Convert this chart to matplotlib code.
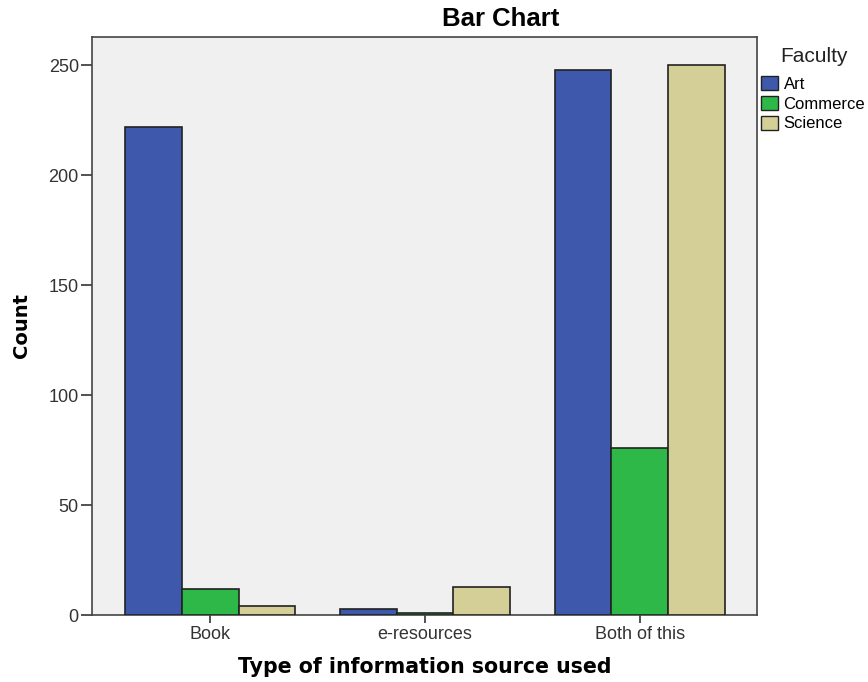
import matplotlib
matplotlib.use("Agg")
import matplotlib.pyplot as plt
import numpy as np
from matplotlib.patches import Patch

plt.rcParams['font.family'] = ['Liberation Sans', 'DejaVu Sans']

categories = ["Book", "e-resources", "Both of this"]
faculties = ["Art", "Commerce", "Science"]
art = [222, 3, 248]
commerce = [12, 1, 76]
science = [4, 13, 250]
colors = ["#3E58AC", "#2EB848", "#D4CF97"]

W, H = 868, 682
fig = plt.figure(figsize=(W / 100, H / 100), dpi=100)
ax = fig.add_axes([0.106, 0.098, 0.766, 0.848])
ax.set_facecolor("#F0F0F0")

x = np.arange(len(categories))
w = 0.264
for i, (vals, c) in enumerate(zip([art, commerce, science], colors)):
    ax.bar(x + (i - 1) * w, vals, width=w, color=c, edgecolor="#222222",
           linewidth=1.2, zorder=3)

ax.set_xlim(-0.55, 2.545)
ax.set_ylim(0, 263)
ax.set_yticks([0, 50, 100, 150, 200, 250])
ax.set_xticks(x)
ax.set_xticklabels(categories)
ax.tick_params(axis='y', labelsize=13, colors="#333333", length=8, width=1.2, pad=1.5)
ax.tick_params(axis='x', labelsize=13, colors="#333333", length=6, width=1.2, pad=2)
for s in ax.spines.values():
    s.set_color("#444444")
    s.set_linewidth(1.2)

fig.text(501 / W, 1 - 19 / H, "Bar Chart", fontsize=18.5, fontweight='bold',
         ha='center', va='center')
ax.set_xlabel("Type of information source used", fontsize=14.8, fontweight='bold',
              family='DejaVu Sans')
ax.xaxis.set_label_coords(0.5, -0.072)
ax.set_ylabel("Count", fontsize=14, fontweight='bold', family='DejaVu Sans')
ax.yaxis.set_label_coords(-0.092, 0.5)

fig.text(780 / W, 1 - 56 / H, "Faculty", fontsize=15, ha='left', va='center',
         color="#222222")
handles = [Patch(facecolor=c, edgecolor="#222222", label=f) for f, c in zip(faculties, colors)]
leg = fig.legend(handles=handles, loc='upper left',
                 bbox_to_anchor=(761 / W, 1 - 76 / H), frameon=False, fontsize=12,
                 handlelength=1.0, handleheight=0.9, borderpad=0, borderaxespad=0,
                 handletextpad=0.35, labelspacing=0.25)

fig.savefig("out.png", dpi=100)
